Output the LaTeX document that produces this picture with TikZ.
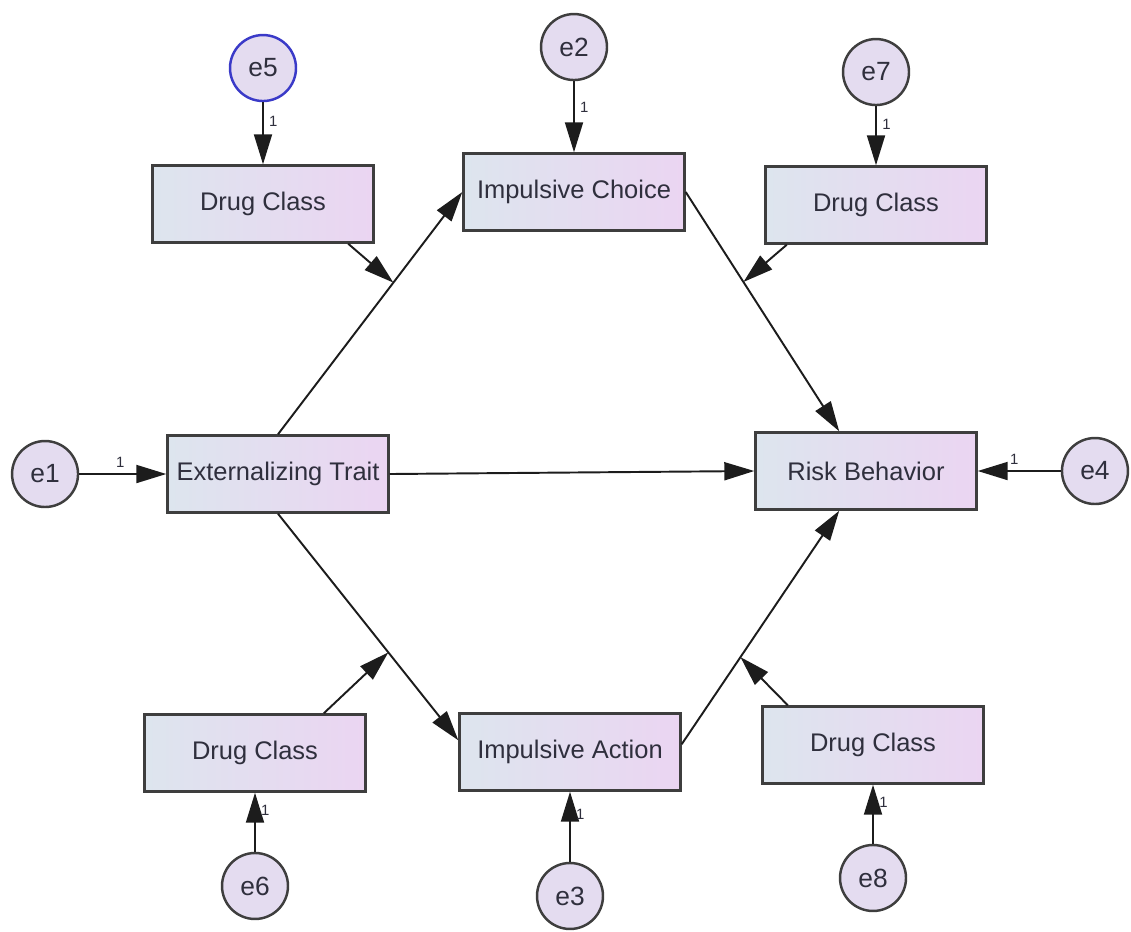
\documentclass[tikz,border=0pt]{standalone}
\usepackage{fontspec}
\setmainfont{Liberation Sans}
\usetikzlibrary{positioning,arrows.meta}

\definecolor{boxleft}{HTML}{DDE5EE}
\definecolor{boxright}{HTML}{EBD5F2}
\definecolor{errfill}{HTML}{E4DCF0}
\definecolor{linegray}{HTML}{1C1C1C}
\definecolor{txtgray}{HTML}{2F2F3D}
\definecolor{selblue}{HTML}{3A3AC8}

\begin{document}
\begin{tikzpicture}[x=0.02cm,y=-0.02cm,>={Triangle[length=0.6cm,width=0.36cm]},
    on grid,auto,
    obs/.style={draw=linegray!85,line width=1.4pt,left color=boxleft,right color=boxright,
        minimum width=4.42cm,minimum height=1.54cm,inner sep=0pt,text=txtgray,
        font=\fontsize{14.5}{17}\selectfont},
    err/.style={circle,draw=linegray!85,line width=1.4pt,fill=errfill,minimum size=1.32cm,
        inner sep=0pt,text=txtgray,font=\fontsize{15}{18}\selectfont},
    one/.style={font=\fontsize{8.5}{10}\selectfont,inner sep=3pt,text=txtgray},
    every edge/.style={draw=linegray,line width=1.1pt}]
                        % \draw[help lines] (0,0) grid[step=100] (1131,931);
                        \useasboundingbox (0,0) rectangle (1131,931);

                        \node[obs] (ET)  at (278,474) {Externalizing Trait};
                        \node[obs] (IC)  at (574,192) {Impulsive Choice};
                        \node[obs] (IA)  at (570,752) {Impulsive Action};
                        \node[obs] (RB)  at (866,471) {Risk Behavior};
                        \node[obs] (DC5) at (263,204) {Drug Class};
                        \node[obs] (DC7) at (876,205) {Drug Class};
                        \node[obs] (DC6) at (255,753) {Drug Class};
                        \node[obs] (DC8) at (873,745) {Drug Class};

                        \node[err,draw=selblue] (e5) [above=2.72cm of DC5] {e5};
                        \node[err] (e2) [above=2.9cm of IC]  {e2};
                        \node[err] (e7) [above=2.66cm of DC7] {e7};
                        \node[err] (e1) [left=4.66cm of ET]  {e1};
                        \node[err] (e4) [right=4.58cm of RB] {e4};
                        \node[err] (e6) [below=2.66cm of DC6] {e6};
                        \node[err] (e3) [below=2.88cm of IA]  {e3};
                        \node[err] (e8) [below=2.66cm of DC8] {e8};

                        \path (ET.north) -- coordinate[pos=0.626] (m1) (IC.west);
                        \path (IC.east)  -- coordinate[pos=0.376] (m2) (RB.124);
                        \path (ET.south) -- coordinate[pos=0.612] (m3) (IA.174);
                        \path (IA.4)     -- coordinate[pos=0.373] (m4) (RB.236);

                        \path[->]
                            (e1) edge node[one,pos=0.47] {1} (ET)
                            (e4) edge node[one,pos=0.56,swap] {1} (RB)
                            (e5) edge node[one,pos=0.3] {1} (DC5)
                            (e2) edge node[one,pos=0.37] {1} (IC)
                            (e7) edge node[one,pos=0.3] {1} (DC7)
                            (e6) edge node[one,pos=0.7,swap] {1} (DC6)
                            (e3) edge node[one,pos=0.68,swap] {1} (IA)
                            (e8) edge node[one,pos=0.7,swap] {1} (DC8)
                            (ET.north) edge (IC.west)
                            (ET.east)  edge (RB.west)
                            (ET.south) edge (IA.174)
                            (IC.east)  edge (RB.124)
                            (IA.4)     edge (RB.236)
                            (DC5.-25)  edge (m1)
                            (DC7.204)  edge (m2)
                            (DC6.30)   edge (m3)
                            (DC8.155)  edge (m4);
                    \end{tikzpicture}
\end{document}
